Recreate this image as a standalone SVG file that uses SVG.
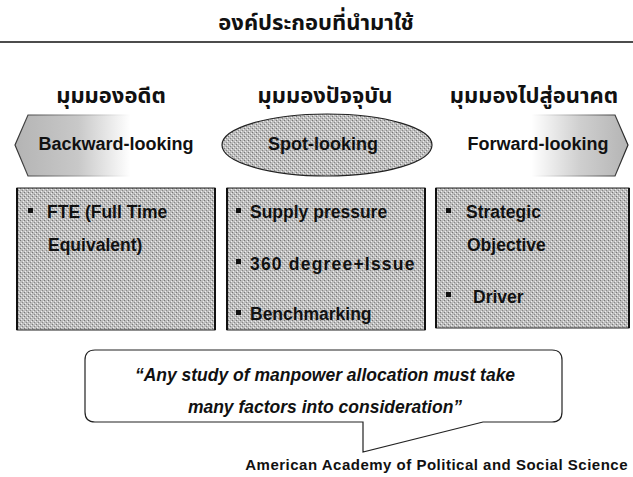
<svg xmlns="http://www.w3.org/2000/svg" width="633" height="477" viewBox="0 0 633 477">
<defs>
<linearGradient id="gL" x1="15" y1="0" x2="225" y2="0" gradientUnits="userSpaceOnUse">
<stop offset="0" stop-color="#b4b4b4"/><stop offset="0.3" stop-color="#c8c8c8"/><stop offset="0.55" stop-color="#ffffff"/><stop offset="1" stop-color="#ffffff"/>
</linearGradient>
<linearGradient id="gLs" x1="15" y1="0" x2="225" y2="0" gradientUnits="userSpaceOnUse">
<stop offset="0" stop-color="#333"/><stop offset="0.35" stop-color="#aaa"/><stop offset="0.55" stop-color="#fff"/><stop offset="1" stop-color="#fff"/>
</linearGradient>
<linearGradient id="gR" x1="435" y1="0" x2="628" y2="0" gradientUnits="userSpaceOnUse">
<stop offset="0" stop-color="#ffffff"/><stop offset="0.5" stop-color="#ffffff"/><stop offset="0.75" stop-color="#cfcfcf"/><stop offset="1" stop-color="#b4b4b4"/>
</linearGradient>
<linearGradient id="gRs" x1="435" y1="0" x2="628" y2="0" gradientUnits="userSpaceOnUse">
<stop offset="0" stop-color="#fff"/><stop offset="0.5" stop-color="#fff"/><stop offset="0.7" stop-color="#aaa"/><stop offset="1" stop-color="#222"/>
</linearGradient>
<pattern id="dots" width="4" height="4" patternUnits="userSpaceOnUse">
<rect width="4" height="4" fill="#bdbdbd"/>
<rect x="0" y="0" width="1" height="1" fill="#777"/>
<rect x="2" y="2" width="1" height="1" fill="#888"/>
<rect x="3" y="1" width="1" height="1" fill="#eee"/>
<rect x="1" y="3" width="1" height="1" fill="#eee"/>
</pattern>
</defs>
<style>
.th{font-family:"Noto Sans Thai","Noto Sans","DejaVu Sans",sans-serif;font-weight:bold;fill:#111;text-anchor:middle}
.hd{font-family:"Liberation Sans",Arial,sans-serif;font-weight:bold;font-size:18px;fill:#111;text-anchor:middle}
.bx{fill:url(#dots);stroke:#222;stroke-width:1}
.it{font-family:"Liberation Sans",Arial,sans-serif;font-weight:bold;font-size:17.5px;fill:#111}
.bl{fill:#111}
.q{font-family:"Liberation Sans",Arial,sans-serif;font-weight:bold;font-style:italic;font-size:17.5px;fill:#111;text-anchor:middle}
</style>
<g id="title">
<text class="th" x="316" y="30" font-size="22">องค์ประกอบที่นำมาใช้</text>
<line x1="0" y1="42" x2="633" y2="42" stroke="#111" stroke-width="1.5"/>
</g>
<g id="headers">
<text class="th" x="111" y="103" font-size="22">มุมมองอดีต</text>
<text class="th" x="325" y="103" font-size="22">มุมมองปัจจุบัน</text>
<text class="th" x="534" y="103" font-size="22">มุมมองไปสู่อนาคต</text>
</g>
<g id="backward">
<polygon points="15,145 28,115 225,115 225,176 28,176" fill="url(#gL)" stroke="url(#gLs)" stroke-width="1.2"/>
<text class="hd" x="116" y="150">Backward-looking</text>
</g>
<g id="spot">
<ellipse cx="327" cy="145" rx="105" ry="31" fill="url(#dots)" stroke="#222" stroke-width="1.2"/>
<text class="hd" x="323" y="150">Spot-looking</text>
</g>
<g id="forward">
<polygon points="435,115 615,115 628,145 615,176 435,176" fill="url(#gR)" stroke="url(#gRs)" stroke-width="1.2"/>
<text class="hd" x="538" y="150">Forward-looking</text>
</g>
<g id="box-left">
<rect class="bx" x="17" y="188" width="198" height="142"/>
<line x1="17" y1="188" x2="17" y2="330" stroke="#111" stroke-width="2"/>
<line x1="215" y1="188" x2="215" y2="330" stroke="#111" stroke-width="2"/>
<rect class="bl" x="28" y="208" width="5" height="5"/>
<text class="it" x="47" y="218">FTE (Full Time</text>
<text class="it" x="48" y="251">Equivalent)</text>
</g>
<g id="box-middle">
<rect class="bx" x="227" y="188" width="198" height="142"/>
<line x1="227" y1="188" x2="227" y2="330" stroke="#111" stroke-width="2"/>
<line x1="425" y1="188" x2="425" y2="330" stroke="#111" stroke-width="2"/>
<rect class="bl" x="236" y="208" width="5" height="5"/>
<text class="it" x="250" y="218">Supply pressure</text>
<rect class="bl" x="236" y="259" width="5" height="5"/>
<text class="it" x="250" y="270" font-size="21" letter-spacing="1.2">360 degree+Issue</text>
<rect class="bl" x="236" y="310" width="5" height="5"/>
<text class="it" x="250" y="320" font-size="18">Benchmarking</text>
</g>
<g id="box-right">
<rect class="bx" x="436" y="188" width="193" height="140"/>
<line x1="436" y1="188" x2="436" y2="328" stroke="#111" stroke-width="2"/>
<line x1="629" y1="188" x2="629" y2="328" stroke="#111" stroke-width="2"/>
<rect class="bl" x="446" y="208" width="5" height="5"/>
<text class="it" x="466" y="218">Strategic</text>
<text class="it" x="467" y="251">Objective</text>
<rect class="bl" x="446" y="292" width="5" height="5"/>
<text class="it" x="473" y="303">Driver</text>
</g>
<g id="quote">
<path d="M95,350 H552 Q562,350 562,360 V412 Q562,422 552,422 H483 L363,452 V422 H95 Q85,422 85,412 V360 Q85,350 95,350 Z" fill="#fff" stroke="#222" stroke-width="1.2"/>
<text class="q" x="325" y="381">“Any study of manpower  allocation must take</text>
<text class="q" x="325" y="413">many factors into consideration”</text>
</g>
<g id="source">
<text x="628" y="470" font-family="Liberation Sans, Arial, sans-serif" font-weight="bold" font-size="15" letter-spacing="0.5" fill="#111" text-anchor="end">American Academy of Political and Social Science</text>
</g>
</svg>
